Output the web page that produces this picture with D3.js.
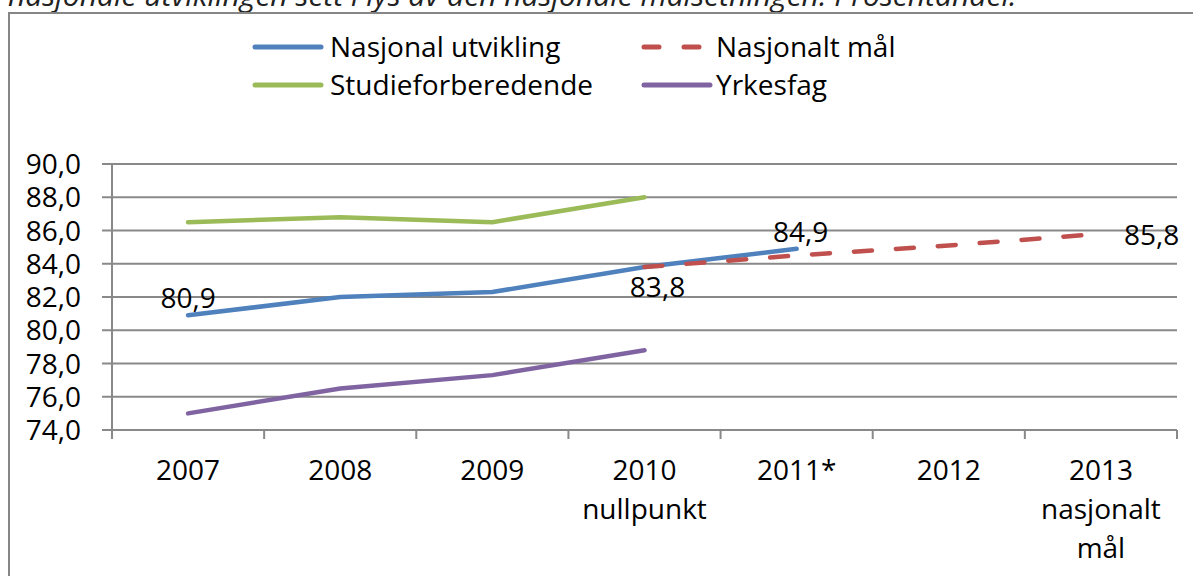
<!DOCTYPE html>
<html>
<head>
<meta charset="utf-8">
<script src="https://cdn.jsdelivr.net/npm/d3@7"></script>
<style>
  body { margin: 0; background: #fff; }
  svg { display: block; font-family: "Open Sans", sans-serif; }
</style>
</head>
<body>
<svg id="chart" width="1193" height="576"></svg>
<script>
(function () {
  'use strict';

  // category labels (multi-line)
  var categories = ['2007', '2008', '2009', '2010', '2011*', '2012', '2013'];
  var categoryLines = [['2007'], ['2008'], ['2009'], ['2010', 'nullpunkt'], ['2011*'], ['2012'], ['2013', 'nasjonalt', 'mål']];
  var yTicks = [74, 76, 78, 80, 82, 84, 86, 88, 90];

  // series values (null = no data)
  var nasjonal = [80.9, 82.0, 82.3, 83.8, 84.9, null, null];
  var maal = [null, null, null, 83.8, 84.5, 85.1, 85.8];
  var studie = [86.5, 86.8, 86.5, 88.0, null, null, null];
  var yrkes = [75.0, 76.5, 77.3, 78.8, null, null, null];

  var svg = d3.select('#chart');
  var fmt = function (v) { return d3.format('.1f')(v).replace('.', ','); };

  // clipped caption on top
  svg.append('text')
    .attr('x', 8).attr('y', 6)
    .attr('font-size', 30).attr('font-style', 'italic').attr('fill', '#222')
    .text('nasjonale utviklingen sett i lys av den nasjonale målsetningen. Prosentandel.');

  // outer chart border
  svg.append('rect')
    .attr('x', 9).attr('y', 13).attr('width', 1200).attr('height', 600)
    .attr('fill', '#fff').attr('stroke', '#868686').attr('stroke-width', 2);

  var left = 112, right = 1177, top = 164, bottom = 430;

  var x = d3.scaleBand().domain(categories).range([left, right]);
  var y = d3.scaleLinear().domain([74, 90]).range([bottom, top]);
  var cx = function (i) { return x(categories[i]) + x.bandwidth() / 2; };

  // gridlines + y labels
  var g = svg.append('g');
  g.selectAll('line.grid').data(yTicks).enter().append('line')
    .attr('x1', left - 10).attr('x2', right)
    .attr('y1', function (d) { return y(d); }).attr('y2', function (d) { return y(d); })
    .attr('stroke', '#898989').attr('stroke-width', 2);
  g.selectAll('text.ylab').data(yTicks).enter().append('text')
    .attr('x', 81).attr('y', function (d) { return y(d); })
    .attr('dy', '0.36em').attr('text-anchor', 'end')
    .attr('font-size', 28).attr('fill', '#000')
    .text(fmt);

  // y axis line
  g.append('line').attr('x1', left).attr('x2', left).attr('y1', top).attr('y2', bottom + 9)
    .attr('stroke', '#898989').attr('stroke-width', 2);

  // x tick marks
  var ticks = categories.map(function (c) { return x(c); }).concat([right]);
  g.selectAll('line.xt').data(ticks.slice(1)).enter().append('line')
    .attr('x1', function (d) { return d; }).attr('x2', function (d) { return d; })
    .attr('y1', bottom).attr('y2', bottom + 9)
    .attr('stroke', '#898989').attr('stroke-width', 2);

  // x labels
  categoryLines.forEach(function (lines, i) {
    var t = svg.append('text').attr('text-anchor', 'middle')
      .attr('font-size', 28).attr('fill', '#000');
    lines.forEach(function (l, j) {
      t.append('tspan').attr('x', cx(i)).attr('y', 480 + j * 39).text(l);
    });
  });

  var line = d3.line()
    .defined(function (d) { return d != null; })
    .x(function (d, i) { return cx(i); })
    .y(function (d) { return y(d); });

  function draw(data, color, dash) {
    svg.append('path').datum(data)
      .attr('d', line).attr('fill', 'none')
      .attr('stroke', color).attr('stroke-width', 4.5)
      .attr('stroke-linecap', 'round')
      .attr('stroke-dasharray', dash || null);
  }
  draw(studie, '#9BBB59');
  draw(yrkes, '#8064A2');
  draw(nasjonal, '#4F81BD');
  draw(maal, '#C0504D', '18,24');

  // data labels
  var labels = [
    { i: 0, v: nasjonal[0], dx: 0, dy: -17, anchor: 'middle' },
    { i: 3, v: nasjonal[3], dx: 13, dy: 20, anchor: 'middle' },
    { i: 4, v: nasjonal[4], dx: 4, dy: -17, anchor: 'middle' },
    { i: 6, v: maal[6], dx: 23, dy: 1, anchor: 'start' }
  ];
  svg.selectAll('text.dl').data(labels).enter().append('text')
    .attr('x', function (d) { return cx(d.i) + d.dx; })
    .attr('y', function (d) { return y(d.v) + d.dy; })
    .attr('dy', '0.36em').attr('text-anchor', function (d) { return d.anchor; })
    .attr('font-size', 28).attr('fill', '#000')
    .text(function (d) { return fmt(d.v); });

  // legend
  var legend = [
    { name: 'Nasjonal utvikling', color: '#4F81BD', x: 255, y: 47 },
    { name: 'Nasjonalt mål', color: '#C0504D', x: 644, y: 47, dash: '15,25' },
    { name: 'Studieforberedende', color: '#9BBB59', x: 255, y: 85 },
    { name: 'Yrkesfag', color: '#8064A2', x: 644, y: 85 }
  ];
  var lg = svg.selectAll('g.lg').data(legend).enter().append('g');
  lg.append('line')
    .attr('x1', function (d) { return d.x; }).attr('x2', function (d) { return d.x + 66; })
    .attr('y1', function (d) { return d.y; }).attr('y2', function (d) { return d.y; })
    .attr('stroke', function (d) { return d.color; }).attr('stroke-width', 5)
    .attr('stroke-linecap', 'round')
    .attr('stroke-dasharray', function (d) { return d.dash || null; });
  lg.append('text')
    .attr('x', function (d) { return d.x < 400 ? 330 : 716; }).attr('y', function (d) { return d.y; })
    .attr('dy', '0.36em').attr('font-size', 28).attr('fill', '#000')
    .text(function (d) { return d.name; });
})();
</script>
</body>
</html>
